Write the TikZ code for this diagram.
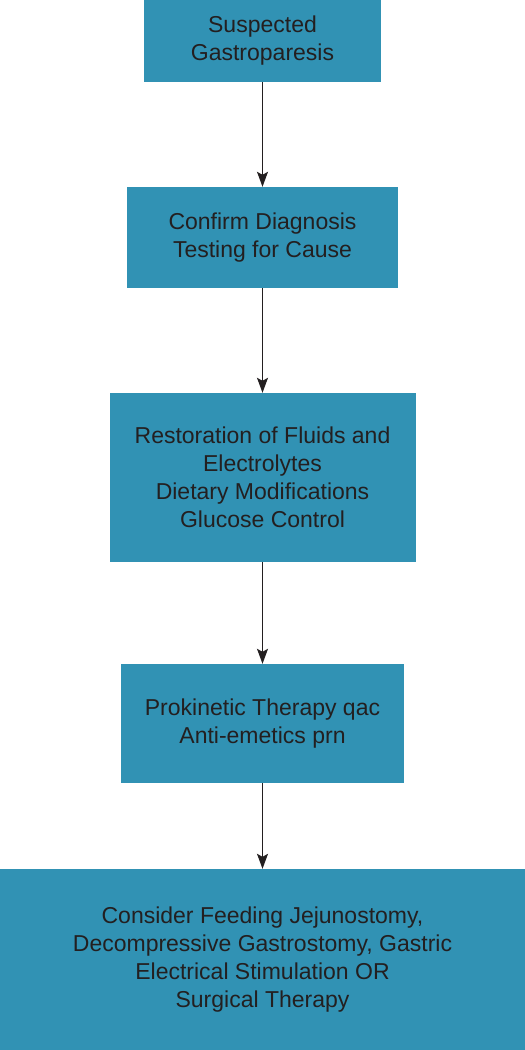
\documentclass[tikz,border=0pt]{standalone}
\usepackage{fontspec}
\setmainfont{Liberation Sans}
\usetikzlibrary{arrows.meta}
\definecolor{boxfill}{RGB}{49,146,180}
\definecolor{txt}{RGB}{35,31,32}
\begin{document}
\begin{tikzpicture}[x=1pt,y=-1pt,
  box/.style={fill=boxfill,draw=none,inner sep=0pt,align=center,text=txt,
    font=\fontsize{23}{28}\selectfont},
  conn/.style={draw=txt,line width=1.3pt,-{Stealth[length=15pt,width=11pt,inset=3pt]}}]
\useasboundingbox (0,0) rectangle (525,1050);
\node[box,minimum width=237pt,minimum height=82pt] (b1) at (262.5,41) {Suspected\\Gastroparesis};
\node[box,minimum width=271pt,minimum height=101pt] (b2) at (262.5,237.5) {Confirm Diagnosis\\Testing for Cause};
\node[box,minimum width=306pt,minimum height=169pt] (b3) at (262.5,477.5) {Restoration of Fluids and\\Electrolytes\\Dietary Modifications\\Glucose Control};
\node[box,minimum width=283pt,minimum height=119pt] (b4) at (262.5,723.5) {Prokinetic Therapy qac\\Anti-emetics prn};
\node[box,minimum width=525pt,minimum height=181pt] (b5) at (262.5,959.5) {Consider Feeding Jejunostomy,\\Decompressive Gastrostomy, Gastric\\Electrical Stimulation OR\\Surgical Therapy};
\draw[conn] (b1.south) -- (b2.north);
\draw[conn] (b2.south) -- (b3.north);
\draw[conn] (b3.south) -- (b4.north);
\draw[conn] (b4.south) -- (b5.north);
\end{tikzpicture}
\end{document}
